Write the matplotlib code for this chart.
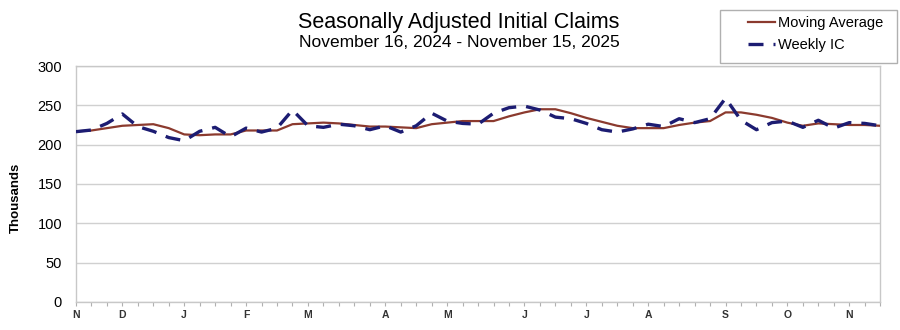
import numpy as np
import matplotlib
matplotlib.use("Agg")
import matplotlib.pyplot as plt
from matplotlib.patches import Rectangle

plt.rcParams["font.family"] = ["Liberation Sans", "DejaVu Sans"]

# weekly initial claims (thousands), Nov 16 2024 .. Nov 15 2025
weekly_ic = [216.5, 218.6, 227, 239, 223, 217, 209, 205, 217, 222,
             210, 221, 216, 221, 244, 224, 222, 226, 224, 219,
             224, 216, 224, 240, 230, 227, 226, 240, 247, 249,
             244, 235, 233, 227, 219, 216, 220, 226, 223, 233,
             228, 233, 259, 231, 219, 228, 230, 222, 231, 221,
             228, 227, 224]

# 4-week moving average (thousands)
moving_avg = [217, 218, 221, 224, 225, 226, 221, 213, 212, 213,
              213, 218, 218, 218, 226, 227, 228, 227, 225, 223,
              223, 222, 221, 226, 228, 230, 230, 230, 236, 241,
              245, 245, 240, 234, 229, 224, 221, 221, 221, 225,
              228, 230, 241, 241, 238, 234, 228, 224, 227, 226,
              225, 225, 224]

# month initials, placed on the first week of each month
month_weeks = [0, 3, 7, 11, 15, 20, 24, 29, 33, 37, 42, 46, 50]
month_labels = ["N", "D", "J", "F", "M", "A", "M", "J", "J", "A", "S", "O", "N"]

weeks = np.arange(len(weekly_ic))

fig = plt.figure(figsize=(9, 3.3), dpi=100)
ax = fig.add_axes([0.0844, 0.085, 0.8936, 0.715])

ax.plot(weeks, moving_avg, color="#8b3a2e", linewidth=1.6, label="Moving Average", zorder=3)
ax.plot(weeks, weekly_ic, color="#1c1c72", linewidth=2.4, linestyle=(0, (4.5, 3.0)),
        label="Weekly IC", zorder=4)

ax.set_xlim(0, 52)
ax.set_ylim(0, 300)
ax.set_yticks(np.arange(0, 301, 50))
ax.tick_params(axis="y", length=0, labelsize=10.5, pad=10)
ax.yaxis.grid(True, color="#d0d0d0", linewidth=1.0)
ax.set_axisbelow(True)

labels = [""] * len(weeks)
for w, m in zip(month_weeks, month_labels):
    labels[w] = m
ax.set_xticks(weeks)
ax.set_xticklabels(labels, fontsize=7.5, fontweight="bold", color="#333333")
ax.tick_params(axis="x", length=3, color="#b0b0b0", pad=3)

for s in ax.spines.values():
    s.set_color("#c8c8c8")
    s.set_linewidth(1.0)

ax.set_ylabel("Thousands", fontsize=9.5, fontweight="bold")
ax.yaxis.set_label_coords(-0.067, 0.44)

fig.text(0.51, 0.932, "Seasonally Adjusted Initial Claims", ha="center", va="center", fontsize=15.5)
fig.text(0.51, 0.872, "November 16, 2024 - November 15, 2025", ha="center", va="center", fontsize=12.5)

# legend box drawn separately so it can run to the right edge
fig.patches.append(Rectangle((0.8, 0.809), 0.197, 0.161, transform=fig.transFigure,
                             facecolor="white", edgecolor="#b0b0b0", linewidth=1.0))
leg = fig.legend(loc="upper left", bbox_to_anchor=(0.826, 0.965), fontsize=10.5,
                 frameon=False, handlelength=1.9, handletextpad=0.15,
                 borderpad=0.3, labelspacing=0.55, borderaxespad=0)

fig.savefig("out.png", dpi=100)
